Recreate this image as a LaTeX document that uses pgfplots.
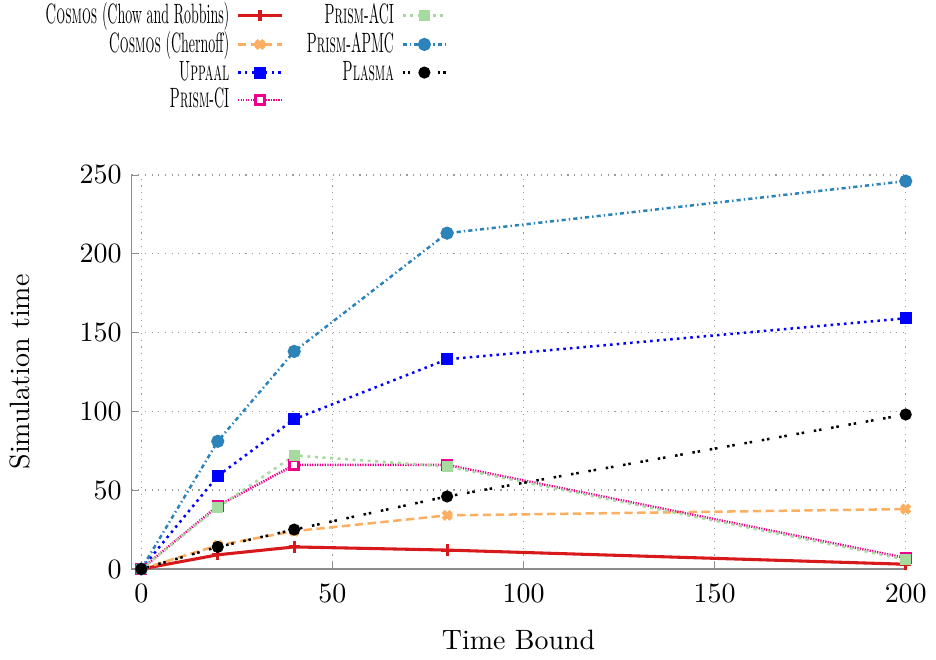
\documentclass[border=0pt]{standalone}
\usepackage{graphicx}
\usepackage{pgfplots}
\pgfplotsset{compat=1.18}
\definecolor{cred}{RGB}{215,25,28}
\definecolor{corange}{RGB}{253,174,97}
\definecolor{cgreen}{RGB}{166,219,160}
\definecolor{capmc}{RGB}{43,131,186}
\newcommand{\lt}[1]{\scalebox{0.5}[1]{#1}}
\pgfplotsset{
  sChow/.style={cred, solid, line width=1.1pt, mark=+, mark size=2pt, mark options={solid, line width=1.1pt}},
  sCher/.style={corange, line width=0.9pt, dash pattern=on 3pt off 1.6pt, mark=x, mark size=2pt, mark options={solid, line width=1.6pt}},
  sUpp/.style={blue, line width=0.9pt, dash pattern=on 0.9pt off 1.5pt, mark=square*, mark size=1.7pt, mark options={solid}},
  sCI/.style={magenta, line width=0.9pt, dash pattern=on 0.45pt off 0.45pt, mark=square*, mark size=1.6pt, mark options={solid, fill=white, line width=1.2pt}},
  sACI/.style={cgreen, line width=0.9pt, dash pattern=on 1.1pt off 1.6pt, mark=square*, mark size=1.5pt, mark options={solid}},
  sAPMC/.style={capmc, line width=0.9pt, dash pattern=on 1.5pt off 1.1pt on 0.5pt off 1.1pt, mark=*, mark size=1.9pt, mark options={solid}},
  sPla/.style={black, line width=0.9pt, dash pattern=on 0.9pt off 1pt on 0.9pt off 3.5pt, mark=*, mark size=1.7pt, mark options={solid}},
}
\begin{document}
\begin{tikzpicture}
\begin{axis}[
  scale only axis,
  width=277pt, height=141pt,
  xmin=-2.6, xmax=200, ymin=0, ymax=250,
  clip=false,
  axis x line*=bottom, axis y line*=left,
  axis line style={black!45, -},
  xtick={0,50,100,150,200}, ytick={0,50,100,150,200,250},
  tick align=inside,
  major tick length=2.5pt,
  tick style={black!45},
  grid=major,
  major grid style={black!40, dotted, line width=0.5pt},
  xticklabel style={yshift=-2pt},
  xlabel={Time Bound}, ylabel={Simulation time},
  xlabel style={yshift=-3pt},
  ylabel shift=11pt,
  legend columns=2,
  legend cell align=right,
  legend image code/.code={\draw[mark repeat=2,mark phase=2] plot coordinates {(0cm,0cm) (0.275cm,0cm) (0.55cm,0cm)};},
  legend style={draw=none, fill=none, legend plot pos=right,
    inner sep=0pt,
    nodes={inner sep=1pt},
    at={(0.409,1.445)}, anchor=north east,
    row sep=-0.6pt,
    /tikz/every odd column/.append style={column sep=1.6pt},
    /tikz/every even column/.append style={column sep=7.3pt}},
]
\addplot[sChow, forget plot] coordinates {(0,0) (20,9) (40,14) (80,12) (200,3)};
\addplot[sCher, forget plot] coordinates {(0,0) (20,15) (40,24) (80,34) (200,38)};
\addplot[sUpp, forget plot] coordinates {(0,0) (20,59) (40,95) (80,133) (200,159)};
\addplot[sCI, forget plot] coordinates {(0,0) (20,40) (40,66) (80,66) (200,7)};
\addplot[sACI, forget plot] coordinates {(0,0) (20,39) (40,72) (80,65) (200,6)};
\addplot[sAPMC, forget plot] coordinates {(0,0) (20,81) (40,138) (80,213) (200,246)};
\addplot[sPla, forget plot] coordinates {(0,0) (20,14) (40,25) (80,46) (200,98)};
\addlegendimage{sChow}
\addlegendentry{\lt{\textsc{Cosmos} (Chow and Robbins)}}
\addlegendimage{sACI}
\addlegendentry{\lt{\textsc{Prism}-ACI}}
\addlegendimage{sCher}
\addlegendentry{\lt{\textsc{Cosmos} (Chernoff)}}
\addlegendimage{sAPMC}
\addlegendentry{\lt{\textsc{Prism}-APMC}}
\addlegendimage{sUpp}
\addlegendentry{\lt{\textsc{Uppaal}}}
\addlegendimage{sPla}
\addlegendentry{\lt{\textsc{Plasma}}}
\addlegendimage{sCI}
\addlegendentry{\lt{\textsc{Prism}-CI}}
\end{axis}
\end{tikzpicture}
\end{document}
